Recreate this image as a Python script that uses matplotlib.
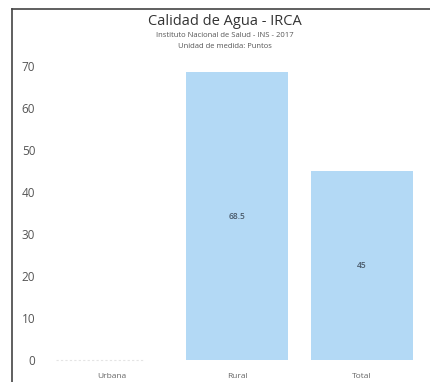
import matplotlib.pyplot as plt
from matplotlib.lines import Line2D

plt.rcParams['font.family'] = ['Open Sans', 'DejaVu Sans']

categorias = ["Urbana", "Rural", "Total"]
valores = [0, 68.5, 45]
etiquetas = ["", "68.5", "45"]
y_ticks = [0, 10, 20, 30, 40, 50, 60, 70]

fig = plt.figure(figsize=(4.3, 3.82), dpi=100)
ax = fig.add_axes([0.1047, 0.0466, 0.8837, 0.803])

x = list(range(len(categorias)))
ax.bar(x, valores, width=0.82, color='#b3d9f5', zorder=2)
for xi, v, lab in zip(x, valores, etiquetas):
    if lab:
        ax.text(xi, v / 2, lab, ha='center', va='center', fontsize=6,
                color='#4a5a6a', fontweight='semibold', zorder=3)

# linea base tenue
ax.plot([-0.45, 0.25], [0, 0], color='#e4e4e4', linewidth=0.8, linestyle=(0, (2, 2)), zorder=1)

ax.set_xlim(-0.536, 2.504)
ax.set_ylim(-1, 72)
ax.set_yticks(y_ticks)
ax.set_xticks(x)
ax.set_xticklabels(categorias, fontsize=6, color='#666666')
ax.tick_params(axis='y', labelsize=8.5, colors='#555555', length=0, pad=7)
ax.tick_params(axis='x', length=0, pad=6)
for s in ax.spines.values():
    s.set_visible(False)

fig.text(0.523, 0.945, "Calidad de Agua - IRCA", ha='center', va='center', fontsize=10.5, color='#333333')
fig.text(0.523, 0.908, "Instituto Nacional de Salud - INS - 2017", ha='center', va='center', fontsize=5.5, color='#555555')
fig.text(0.523, 0.877, "Unidad de medida: Puntos", ha='center', va='center', fontsize=5.5, color='#555555')

# marco
fig.add_artist(Line2D([12 / 430, 12 / 430], [0, 1 - 9 / 382], color='#444444', linewidth=1.2))
fig.add_artist(Line2D([12 / 430, 1], [1 - 9 / 382, 1 - 9 / 382], color='#444444', linewidth=1.2))

fig.savefig("out.png", dpi=100)
